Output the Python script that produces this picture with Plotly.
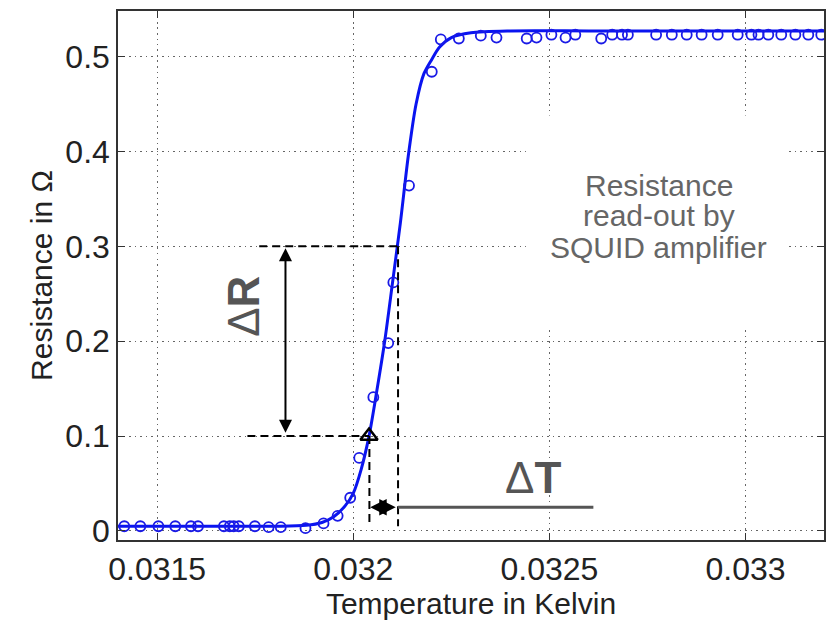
import plotly.graph_objects as go

# ---- data ----
temp_meas = [0.031416, 0.031457, 0.031503, 0.031546, 0.031586, 0.031604, 0.031670, 0.031685,
             0.031695, 0.031708, 0.031749, 0.031784, 0.031815, 0.031878, 0.031924, 0.031960,
             0.031992, 0.032015, 0.032051, 0.032089, 0.032102, 0.032142, 0.032200, 0.032223,
             0.032269, 0.032325, 0.032365, 0.032442, 0.032467, 0.032505, 0.032541, 0.032566,
             0.032632, 0.032660, 0.032685, 0.032700, 0.032772, 0.032812, 0.032850, 0.032888,
             0.032929, 0.032980, 0.033015, 0.033033, 0.033058, 0.033091, 0.033127, 0.033160,
             0.033193]
res_meas = [0.005, 0.005, 0.005, 0.005, 0.005, 0.005, 0.005, 0.005,
            0.005, 0.005, 0.005, 0.004, 0.004, 0.003, 0.008, 0.016,
            0.035, 0.077, 0.141, 0.198, 0.262, 0.364, 0.484, 0.518,
            0.519, 0.522, 0.520, 0.519, 0.520, 0.523, 0.520, 0.523,
            0.519, 0.523, 0.523, 0.523, 0.523, 0.523, 0.523, 0.523,
            0.523, 0.523, 0.523, 0.523, 0.523, 0.523, 0.523, 0.523,
            0.523]

temp_fit = [0.0314, 0.0316, 0.0318, 0.03188, 0.03192, 0.03195, 0.03198, 0.03200, 0.03202,
            0.03204, 0.03206, 0.03208, 0.03210, 0.03212, 0.03214, 0.03216, 0.03218, 0.03220,
            0.03222, 0.03225, 0.03230, 0.03240, 0.03260, 0.03280, 0.03300, 0.03320]
res_fit = [0.005, 0.005, 0.005, 0.006, 0.009, 0.015, 0.027, 0.040, 0.065,
           0.100, 0.148, 0.200, 0.262, 0.325, 0.395, 0.450, 0.482, 0.497,
           0.510, 0.520, 0.525, 0.527, 0.527, 0.527, 0.527, 0.527]

marker_T = [0.03204]
marker_R = [0.1]

x_ticks = [0.0315, 0.032, 0.0325, 0.033]
x_labels = ["0.0315", "0.032", "0.0325", "0.033"]
y_ticks = [0, 0.1, 0.2, 0.3, 0.4, 0.5]
y_labels = ["0", "0.1", "0.2", "0.3", "0.4", "0.5"]

FONT = "Liberation Sans, Arial, Helvetica, sans-serif"

fig = go.Figure()
fig.add_trace(go.Scatter(x=temp_fit, y=res_fit, mode="lines", line=dict(color="#0a14f0", width=3, shape="spline",
                                                                        smoothing=0.8),
                         hoverinfo="skip"))
fig.add_trace(go.Scatter(x=temp_meas, y=res_meas, mode="markers",
                         marker=dict(symbol="circle-open", size=10, color="#1a1ae6", line=dict(width=1.8))))
fig.add_trace(go.Scatter(x=marker_T, y=marker_R, mode="markers",
                         marker=dict(symbol="triangle-up-open", size=15, color="black", line=dict(width=2.5))))

dash = dict(color="black", width=2, dash="8px,5px")
shapes = [
    # white box behind label
    dict(type="rect", xref="x", yref="y", x0=0.03244, x1=0.03311, y0=0.214, y1=0.438,
         fillcolor="white", line=dict(width=0), layer="between"),
    dict(type="line", xref="x", yref="y", x0=0.03176, x1=0.032114, y0=0.3, y1=0.3, line=dash),
    dict(type="line", xref="x", yref="y", x0=0.032114, x1=0.032114, y0=0.3, y1=0.005, line=dash),
    dict(type="line", xref="x", yref="y", x0=0.03173, x1=0.03204, y0=0.1, y1=0.1, line=dash),
    dict(type="line", xref="x", yref="y", x0=0.032041, x1=0.032041, y0=0.1, y1=0.005, line=dash),
    dict(type="line", xref="x", yref="y", x0=0.032114, x1=0.032612, y0=0.025, y1=0.025,
         line=dict(color="#555555", width=3)),
]

annotations = [
    dict(x=0.031827, y=0.298, ax=0.031827, ay=0.102, xref="x", yref="y", axref="x", ayref="y",
         text="", showarrow=True, arrowhead=2, arrowside="end+start", arrowsize=1.3, arrowwidth=2,
         arrowcolor="black"),
    dict(x=0.032043, y=0.025, ax=0.032112, ay=0.025, xref="x", yref="y", axref="x", ayref="y",
         text="", showarrow=True, arrowhead=2, arrowside="end+start", arrowsize=1.1, arrowwidth=3,
         arrowcolor="black"),
    dict(x=0.031718, y=0.237, xref="x", yref="y", text="Δ<b>R</b>", showarrow=False, textangle=-90,
         font=dict(family=FONT, size=44, color="#555555")),
    dict(x=0.032457, y=0.056, xref="x", yref="y", text="Δ<b>T</b>", showarrow=False,
         font=dict(family=FONT, size=44, color="#555555")),
]
for txt, yy in [("Resistance", 0.364), ("read-out by", 0.332), ("SQUID amplifier", 0.299)]:
    annotations.append(dict(x=0.032779, y=yy, xref="x", yref="y", text=txt, showarrow=False,
                            font=dict(family=FONT, size=30, color="#666666")))

axis_common = dict(showline=True, linecolor="#333333", linewidth=1.5, mirror="ticks",
                   ticks="inside", ticklen=7, tickcolor="#333333",
                   showgrid=True, gridcolor="#666666", griddash="1.5px,4px", gridwidth=1.2,
                   zeroline=False, tickfont=dict(family=FONT, size=32, color="#222222"))

fig.update_layout(
    width=835, height=624,
    margin=dict(l=118, r=9, t=10, b=84),
    paper_bgcolor="white", plot_bgcolor="white",
    showlegend=False,
    shapes=shapes, annotations=annotations,
    xaxis=dict(range=[0.0314, 0.0332], tickvals=x_ticks, ticktext=x_labels,
               title=dict(text="Temperature in Kelvin", font=dict(family=FONT, size=30, color="#222222"),
                          standoff=6),
               **axis_common),
    yaxis=dict(range=[-0.0095, 0.548], tickvals=y_ticks, ticktext=y_labels,
               title=dict(text="Resistance in Ω", font=dict(family=FONT, size=30, color="#222222"),
                          standoff=4),
               **axis_common),
)

fig.write_html("out.html")
